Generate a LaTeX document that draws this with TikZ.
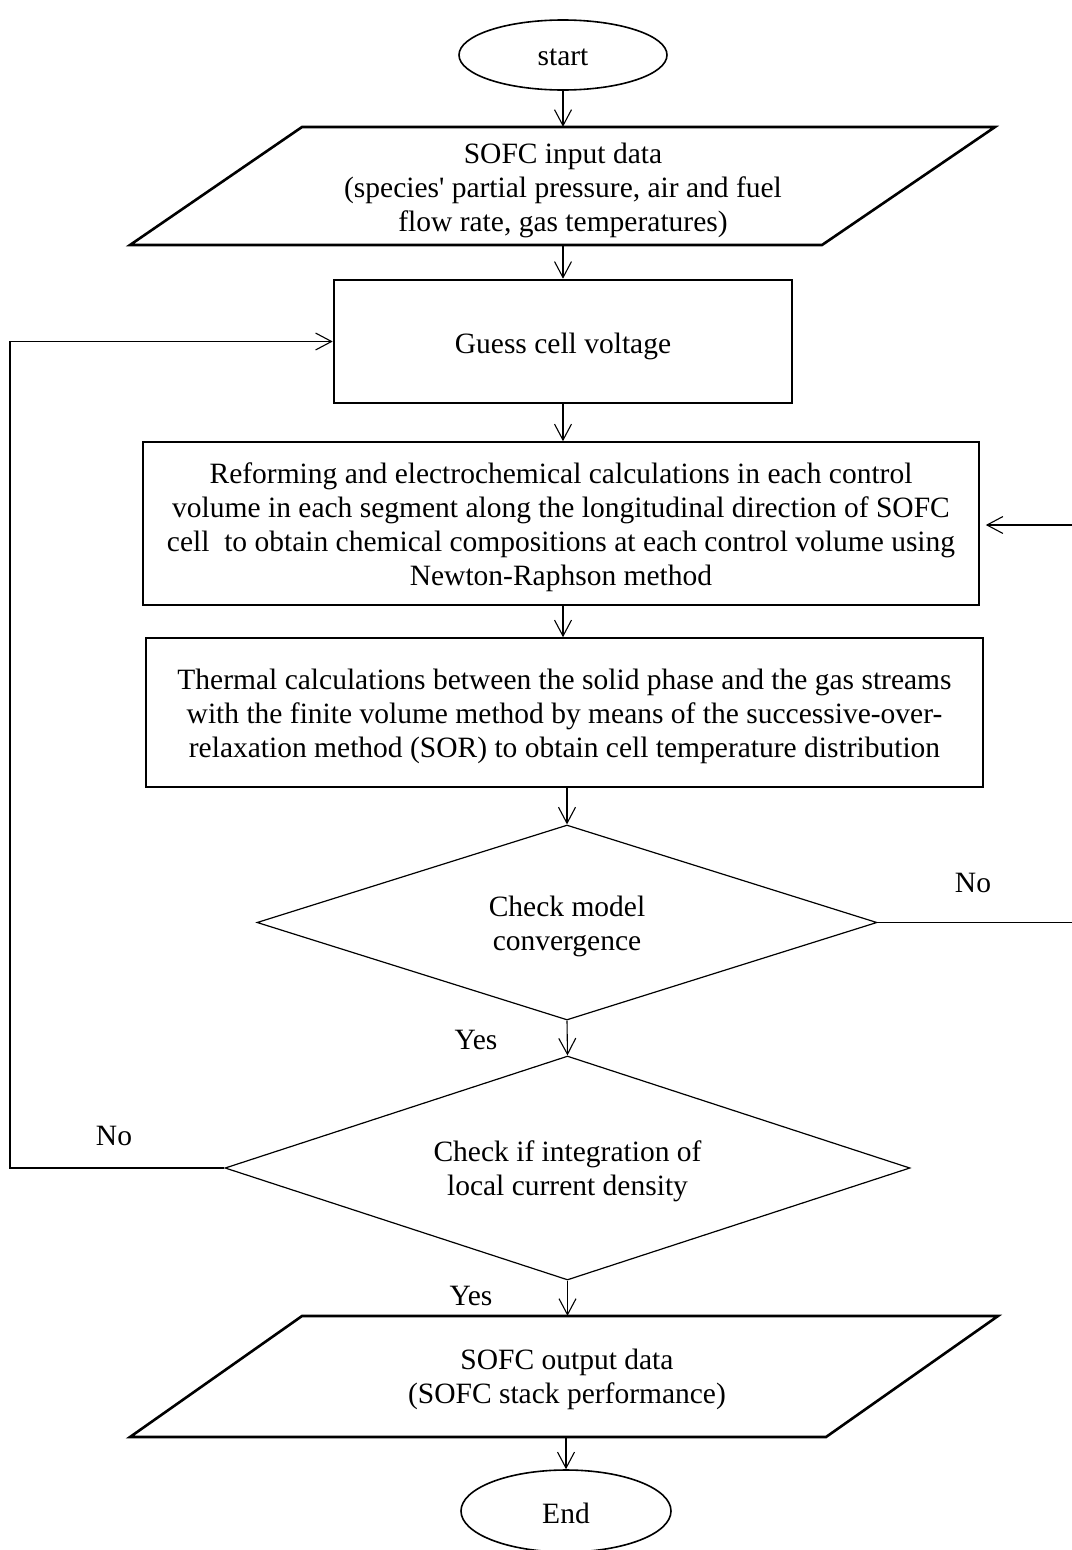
\documentclass[tikz,border=0pt]{standalone}
\usepackage{fontspec}
\setmainfont{Liberation Serif}[Ligatures=TeXOff]
\usetikzlibrary{shapes.geometric,arrows.meta,calc}
\begin{document}
\begin{tikzpicture}[x=1pt,y=-1pt,
  every node/.style={font=\fontsize{29.5}{34}\selectfont, inner sep=0pt, align=center},
  term/.style={ellipse, draw, line width=1.6pt},
  procbox/.style={rectangle, draw, line width=1.6pt},
  heavybox/.style={rectangle, draw, line width=2.6pt},
  iotext/.style={rectangle, draw=none},
  iopoly/.style={line width=2.6pt, line join=miter},
  decision/.style={diamond, draw, line width=1.2pt, shape aspect=3.1},
  txt/.style={draw=none},
  flow/.style={line width=1.1pt, -{Straight Barb[length=16pt,width=17pt,line width=1.1pt]}},
  lbl/.style={}
]
\useasboundingbox (0,0) rectangle (1071,1550);

% shapes
\node[term, minimum width=208pt, minimum height=70pt] (start) at (563,55) {};
\node[iotext, minimum width=692pt, minimum height=118pt] (in) at (563,186) {};
\draw[iopoly] (302,127) -- (995,127) -- (822,245) -- (130,245) -- cycle;
\node[heavybox, minimum width=458pt, minimum height=123pt] (guess) at (563,341.5) {};
\node[procbox, minimum width=836pt, minimum height=163pt] (calc) at (561,523.5) {};
\node[procbox, minimum width=837pt, minimum height=149pt] (therm) at (564.5,712.5) {};
\node[decision, minimum width=620pt, minimum height=195pt] (conv) at (567,922.5) {};
\node[decision, minimum width=685pt, minimum height=224pt] (integ) at (567.5,1168) {};
\node[iotext, minimum width=696pt, minimum height=121pt] (out) at (567,1376.5) {};
\draw[iopoly] (302,1316) -- (998,1316) -- (826,1437) -- (130,1437) -- cycle;
\node[term, minimum width=210pt, minimum height=82pt] (end) at (566,1511) {};

% texts
\node[txt] (start-t) at ($(start.center)+(0,2.5)$) {start};
\node[txt] (in-t) at ($(in.center)+(0,4)$)
  {SOFC input data\\(species' partial pressure, air and fuel\\flow rate, gas temperatures)};
\node[txt] (guess-t) at ($(guess.center)+(0,4.5)$) {Guess cell voltage};
\node[txt] (calc-t) at ($(calc.center)+(0,4)$)
  {Reforming and electrochemical calculations in each control\\
   volume in each segment along the longitudinal direction of SOFC\\
   cell \ to obtain chemical compositions at each control volume using\\
   Newton-Raphson method};
\node[txt] (therm-t) at ($(therm.center)+(0,3.5)$)
  {Thermal calculations between the solid phase and the gas streams\\
   with the finite volume method by means of the successive-over-\\
   relaxation method (SOR) to obtain cell temperature distribution};
\node[txt] (conv-t) at ($(conv.center)+(0,3.5)$) {Check model\\convergence};
\node[txt] (integ-t) at ($(integ.center)+(0,3.5)$) {Check if integration of\\local current density};
\node[txt] (out-t) at ($(out.center)+(0,3)$) {SOFC output data\\(SOFC stack performance)};
\node[txt] (end-t) at ($(end.center)+(0,2)$) {End};

% corridor coordinates
\coordinate (rightlane) at (1075,0);
\coordinate (leftlane) at (10,0);

% connectors
\draw[flow] (start.south) -- (start.south |- in.north);
\draw[flow] (in.south) -- (in.south |- guess.north);
\draw[flow] (guess.south) -- (guess.south |- calc.north);
\draw[flow] (calc.south -| guess.south) -- (guess.south |- therm.north);
\draw[flow] (therm.south -| conv.north) -- (conv.north);
\draw[flow] (conv.south) -- (integ.north);
\draw[flow] (integ.south) -- (integ.south |- out.north);
\draw[flow] (out.south -| end.north) -- (end.north);

% loops
\draw[flow] (conv.east) -- (conv.east -| rightlane) -- ([yshift=-1.5pt]calc.east -| rightlane) -- ([xshift=6pt,yshift=-1.5pt]calc.east);
\draw[flow] (integ.west) -- (integ.west -| leftlane) -- (guess.west -| leftlane) -- (guess.west);

% labels
\node[lbl] (noR) at (973,883) {No};
\node[lbl] (yes1) at (476,1040) {Yes};
\node[lbl] (noL) at (114,1136) {No};
\node[lbl] (yes2) at (471,1296) {Yes};
\end{tikzpicture}
\end{document}
